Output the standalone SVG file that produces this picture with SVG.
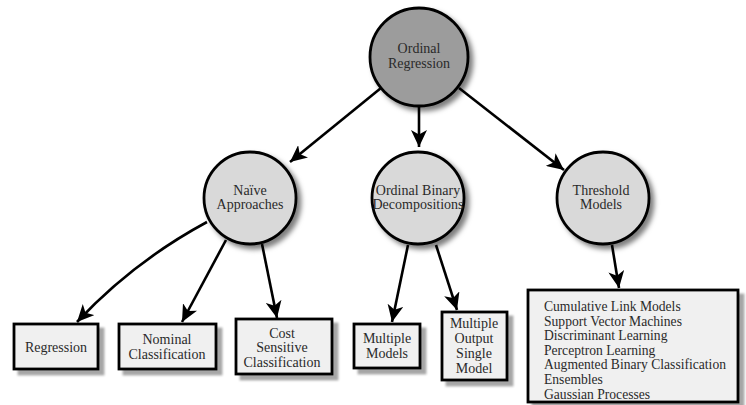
<svg xmlns="http://www.w3.org/2000/svg" width="746" height="405" viewBox="0 0 746 405">
<defs>
<filter id="sc" x="-30%" y="-30%" width="160%" height="160%"><feDropShadow dx="4" dy="4" stdDeviation="2.5" flood-color="#000" flood-opacity="0.5"/></filter>
<filter id="sb" x="-20%" y="-20%" width="140%" height="140%"><feDropShadow dx="5" dy="5" stdDeviation="0.8" flood-color="#000" flood-opacity="0.35"/></filter>
<marker id="ah" markerUnits="userSpaceOnUse" markerWidth="18" markerHeight="16" viewBox="0 0 18 16" refX="17" refY="8" orient="auto"><path d="M0,0 L17,8 L0,16 L4.5,8 Z" fill="#000"/></marker>
<style>
.l{font-family:"Liberation Serif","Times New Roman",serif;font-size:14px;fill:#2a2a2a}
.s{font-size:13.6px}
.m{text-anchor:middle}
.c{stroke:#000;stroke-width:2.8;filter:url(#sc)}
.b{fill:#f0f0f0;stroke:#000;stroke-width:2.8;filter:url(#sb)}
.e{fill:none;stroke:#000;stroke-width:2.6;marker-end:url(#ah)}
</style>
</defs>
<g id="edges">
<line class="e" x1="381" y1="88" x2="290" y2="162"/>
<line class="e" x1="419" y1="107" x2="419" y2="147"/>
<line class="e" x1="459" y1="88" x2="564" y2="170"/>
<path class="e" d="M207,222 Q133,262 77,322"/>
<line class="e" x1="226" y1="240" x2="182" y2="322"/>
<line class="e" x1="262" y1="244" x2="277" y2="318"/>
<line class="e" x1="408" y1="245" x2="392" y2="322"/>
<line class="e" x1="436" y1="245" x2="457" y2="310"/>
<line class="e" x1="612" y1="245" x2="619" y2="288"/>
</g>
<g id="ordinal-regression"><circle class="c" cx="419" cy="57" r="49" fill="#9c9c9c"/><text class="l m" x="419" y="53">Ordinal</text><text class="l m" x="419" y="67.5">Regression</text></g>
<g id="naive"><circle class="c" cx="250" cy="198" r="46" fill="#d9d9d9"/><text class="l m" x="250" y="195">Naïve</text><text class="l m" x="250" y="208.5">Approaches</text></g>
<g id="obd"><circle class="c" cx="418" cy="198" r="46" fill="#d9d9d9"/><text class="l m" x="418" y="195">Ordinal Binary</text><text class="l m" x="418" y="208.5">Decompositions</text></g>
<g id="threshold"><circle class="c" cx="603" cy="198" r="46" fill="#d9d9d9"/><text class="l m" x="601" y="194.5">Threshold</text><text class="l m" x="601" y="208.5">Models</text></g>
<g id="regression"><rect class="b" x="14" y="324" width="84" height="45"/><text class="l m" x="56" y="352">Regression</text></g>
<g id="nominal"><rect class="b" x="119" y="324" width="97" height="45"/><text class="l m" x="167" y="344">Nominal</text><text class="l m" x="167" y="359">Classification</text></g>
<g id="cost"><rect class="b" x="236" y="319" width="96" height="55"/><text class="l m" x="282" y="337.5">Cost</text><text class="l m" x="282" y="352">Sensitive</text><text class="l m" x="282" y="366.5">Classification</text></g>
<g id="multiple-models"><rect class="b" x="354" y="324" width="66" height="44"/><text class="l m" x="387" y="343">Multiple</text><text class="l m" x="387" y="357.5">Models</text></g>
<g id="mosm"><rect class="b" x="442" y="312" width="65" height="68"/><text class="l m" x="474" y="328">Multiple</text><text class="l m" x="474" y="343">Output</text><text class="l m" x="474" y="357.5">Single</text><text class="l m" x="474" y="372.5">Model</text></g>
<g id="threshold-list"><rect class="b" x="528" y="290" width="210" height="112"/>
<text class="l s" x="544" y="311">Cumulative Link Models</text>
<text class="l s" x="544" y="325.5">Support Vector Machines</text>
<text class="l s" x="544" y="340">Discriminant Learning</text>
<text class="l s" x="544" y="354.5">Perceptron Learning</text>
<text class="l s" x="544" y="369">Augmented Binary Classification</text>
<text class="l s" x="544" y="384">Ensembles</text>
<text class="l s" x="544" y="398.5">Gaussian Processes</text></g>
</svg>
